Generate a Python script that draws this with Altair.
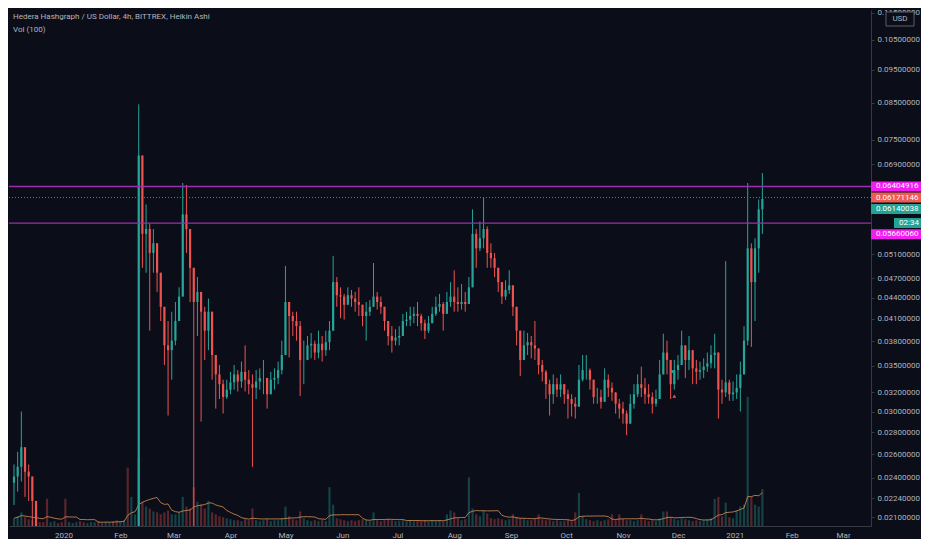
import altair as alt
import pandas as pd

# 2-day Heikin Ashi style candles, first bar 2019-12-05
first_day = "2019-12-05"
first_open = 0.0236

close = [
    0.0241, 0.0249, 0.0266, 0.0245, 0.0241, 0.0222, 0.0192, 0.0178, 0.0170, 0.0165,
    0.0168, 0.0172, 0.0166, 0.0160, 0.0158, 0.0163, 0.0170, 0.0175, 0.0168, 0.0164,
    0.0170, 0.0178, 0.0182, 0.0176, 0.0172, 0.0178, 0.0185, 0.0180, 0.0176, 0.0180,
    0.0186, 0.0183, 0.0188, 0.0190, 0.0711, 0.0546, 0.0555, 0.0512, 0.0529, 0.0479,
    0.0427, 0.0375, 0.0369, 0.0381, 0.0407, 0.0442, 0.0583, 0.0555, 0.0487, 0.0434,
    0.0449, 0.0420, 0.0394, 0.0420, 0.0363, 0.0340, 0.0329, 0.0315, 0.0323, 0.0331,
    0.0340, 0.0332, 0.0343, 0.0334, 0.0329, 0.0325, 0.0332, 0.0336, 0.0336, 0.0318,
    0.0334, 0.0336, 0.0345, 0.0363, 0.0434, 0.0414, 0.0407, 0.0400, 0.0357, 0.0357,
    0.0375, 0.0377, 0.0366, 0.0377, 0.0369, 0.0379, 0.0394, 0.0464, 0.0444, 0.0442,
    0.0430, 0.0444, 0.0439, 0.0434, 0.0430, 0.0414, 0.0420, 0.0427, 0.0442, 0.0434,
    0.0427, 0.0407, 0.0387, 0.0381, 0.0385, 0.0387, 0.0407, 0.0409, 0.0414, 0.0417,
    0.0414, 0.0404, 0.0394, 0.0404, 0.0417, 0.0427, 0.0431, 0.0417, 0.0434, 0.0442,
    0.0434, 0.0431, 0.0434, 0.0431, 0.0456, 0.0546, 0.0520, 0.0538, 0.0555, 0.0512,
    0.0503, 0.0487, 0.0464, 0.0442, 0.0452, 0.0459, 0.0427, 0.0394, 0.0357, 0.0375,
    0.0379, 0.0375, 0.0371, 0.0351, 0.0343, 0.0329, 0.0318, 0.0329, 0.0323, 0.0329,
    0.0318, 0.0313, 0.0308, 0.0305, 0.0334, 0.0345, 0.0345, 0.0334, 0.0315, 0.0315,
    0.0310, 0.0334, 0.0325, 0.0320, 0.0308, 0.0303, 0.0298, 0.0288, 0.0308, 0.0318,
    0.0329, 0.0325, 0.0318, 0.0315, 0.0308, 0.0313, 0.0340, 0.0366, 0.0357, 0.0329,
    0.0345, 0.0351, 0.0375, 0.0357, 0.0369, 0.0347, 0.0343, 0.0345, 0.0349, 0.0353,
    0.0363, 0.0366, 0.0323, 0.0320, 0.0331, 0.0318, 0.0320, 0.0325, 0.0340, 0.0381,
    0.0520, 0.0464, 0.0520, 0.0593, 0.0614,
]

high = [
    0.0251, 0.0262, 0.0300, 0.0262, 0.0251, 0.0241, 0.0203, 0.0195, 0.0184, 0.0176,
    0.0177, 0.0182, 0.0178, 0.0170, 0.0166, 0.0171, 0.0178, 0.0185, 0.0180, 0.0173,
    0.0178, 0.0186, 0.0192, 0.0187, 0.0181, 0.0186, 0.0194, 0.0192, 0.0185, 0.0188,
    0.0195, 0.0193, 0.0197, 0.0200, 0.0845, 0.0711, 0.0603, 0.0565, 0.0555, 0.0529,
    0.0479, 0.0420, 0.0407, 0.0420, 0.0434, 0.0456, 0.0648, 0.0644, 0.0538, 0.0487,
    0.0472, 0.0449, 0.0427, 0.0439, 0.0407, 0.0357, 0.0351, 0.0334, 0.0334, 0.0343,
    0.0351, 0.0345, 0.0355, 0.0375, 0.0345, 0.0340, 0.0345, 0.0347, 0.0357, 0.0334,
    0.0343, 0.0347, 0.0355, 0.0381, 0.0490, 0.0434, 0.0420, 0.0420, 0.0407, 0.0381,
    0.0387, 0.0391, 0.0381, 0.0394, 0.0387, 0.0394, 0.0407, 0.0507, 0.0472, 0.0456,
    0.0446, 0.0456, 0.0452, 0.0449, 0.0456, 0.0427, 0.0434, 0.0437, 0.0495, 0.0449,
    0.0442, 0.0427, 0.0407, 0.0400, 0.0396, 0.0400, 0.0417, 0.0420, 0.0427, 0.0427,
    0.0434, 0.0417, 0.0409, 0.0414, 0.0427, 0.0442, 0.0446, 0.0434, 0.0449, 0.0464,
    0.0483, 0.0456, 0.0461, 0.0449, 0.0472, 0.0593, 0.0555, 0.0569, 0.0617, 0.0560,
    0.0529, 0.0512, 0.0487, 0.0464, 0.0467, 0.0483, 0.0456, 0.0420, 0.0381, 0.0394,
    0.0391, 0.0387, 0.0407, 0.0369, 0.0357, 0.0345, 0.0334, 0.0340, 0.0336, 0.0340,
    0.0329, 0.0323, 0.0318, 0.0315, 0.0351, 0.0363, 0.0363, 0.0347, 0.0329, 0.0325,
    0.0323, 0.0347, 0.0340, 0.0331, 0.0318, 0.0313, 0.0310, 0.0301, 0.0318, 0.0329,
    0.0340, 0.0349, 0.0336, 0.0329, 0.0320, 0.0323, 0.0357, 0.0390, 0.0381, 0.0351,
    0.0357, 0.0363, 0.0394, 0.0375, 0.0387, 0.0369, 0.0357, 0.0355, 0.0359, 0.0366,
    0.0375, 0.0390, 0.0345, 0.0334, 0.0498, 0.0334, 0.0332, 0.0340, 0.0355, 0.0400,
    0.0648, 0.0529, 0.0538, 0.0613, 0.0670,
]

low = [
    0.0219, 0.0229, 0.0237, 0.0225, 0.0222, 0.0198, 0.0180, 0.0170, 0.0163, 0.0158,
    0.0160, 0.0164, 0.0158, 0.0152, 0.0150, 0.0155, 0.0162, 0.0166, 0.0160, 0.0156,
    0.0162, 0.0170, 0.0174, 0.0168, 0.0165, 0.0170, 0.0177, 0.0172, 0.0168, 0.0172,
    0.0178, 0.0175, 0.0180, 0.0182, 0.0188, 0.0487, 0.0479, 0.0394, 0.0479, 0.0449,
    0.0407, 0.0351, 0.0296, 0.0334, 0.0375, 0.0407, 0.0449, 0.0512, 0.0434, 0.0190,
    0.0387, 0.0290, 0.0357, 0.0369, 0.0334, 0.0303, 0.0313, 0.0298, 0.0313, 0.0318,
    0.0323, 0.0321, 0.0325, 0.0321, 0.0318, 0.0249, 0.0313, 0.0323, 0.0318, 0.0303,
    0.0318, 0.0323, 0.0329, 0.0340, 0.0381, 0.0360, 0.0387, 0.0381, 0.0316, 0.0329,
    0.0357, 0.0359, 0.0357, 0.0359, 0.0355, 0.0362, 0.0369, 0.0407, 0.0427, 0.0411,
    0.0409, 0.0430, 0.0427, 0.0420, 0.0414, 0.0400, 0.0381, 0.0414, 0.0427, 0.0423,
    0.0417, 0.0394, 0.0375, 0.0366, 0.0375, 0.0375, 0.0390, 0.0400, 0.0400, 0.0404,
    0.0400, 0.0394, 0.0383, 0.0391, 0.0404, 0.0414, 0.0420, 0.0394, 0.0420, 0.0427,
    0.0420, 0.0420, 0.0423, 0.0420, 0.0437, 0.0479, 0.0487, 0.0515, 0.0520, 0.0487,
    0.0487, 0.0472, 0.0449, 0.0431, 0.0437, 0.0446, 0.0414, 0.0375, 0.0338, 0.0357,
    0.0363, 0.0359, 0.0357, 0.0340, 0.0332, 0.0313, 0.0296, 0.0308, 0.0315, 0.0315,
    0.0308, 0.0293, 0.0295, 0.0293, 0.0318, 0.0332, 0.0334, 0.0323, 0.0308, 0.0308,
    0.0303, 0.0321, 0.0315, 0.0311, 0.0298, 0.0293, 0.0288, 0.0277, 0.0293, 0.0303,
    0.0315, 0.0315, 0.0308, 0.0308, 0.0298, 0.0305, 0.0323, 0.0351, 0.0340, 0.0313,
    0.0323, 0.0334, 0.0357, 0.0336, 0.0345, 0.0329, 0.0329, 0.0334, 0.0336, 0.0343,
    0.0347, 0.0347, 0.0293, 0.0308, 0.0315, 0.0311, 0.0311, 0.0313, 0.0300, 0.0351,
    0.0375, 0.0373, 0.0407, 0.0479, 0.0546,
]

volume = [
    8, 10, 14, 9, 7, 6, 5, 4, 4, 28,
    4, 5, 3, 4, 28, 4, 3, 4, 5, 4,
    3, 4, 4, 5, 3, 4, 4, 5, 6, 5,
    6, 60, 30, 12, 70, 25, 20, 18, 15, 14,
    12, 14, 16, 12, 12, 14, 30, 20, 18, 40,
    25, 22, 18, 26, 14, 12, 10, 9, 8, 7,
    6, 6, 5, 7, 6, 18, 6, 5, 6, 7,
    5, 6, 6, 8, 20, 10, 7, 6, 15, 8,
    6, 5, 6, 5, 6, 5, 40, 22, 8, 7,
    6, 5, 6, 5, 6, 7, 6, 5, 14, 6,
    5, 6, 7, 6, 5, 5, 6, 5, 6, 5,
    6, 5, 6, 5, 6, 5, 6, 5, 12, 16,
    14, 8, 6, 7, 50, 18, 12, 10, 16, 13,
    8, 7, 8, 7, 6, 7, 12, 9, 8, 7,
    6, 6, 7, 12, 7, 6, 6, 5, 6, 5,
    5, 6, 5, 14, 34, 10, 7, 6, 5, 6,
    5, 6, 7, 12, 6, 12, 7, 6, 6, 5,
    6, 12, 6, 5, 6, 5, 8, 15, 15, 9,
    7, 6, 8, 7, 6, 5, 6, 5, 6, 7,
    8, 28, 30, 10, 24, 9, 8, 16, 20, 22,
    133, 30, 22, 20, 38,
]

# horizontal levels and price tags on the right scale
level_lines = [0.06404916, 0.05660060]
last_price = 0.06171146
tag_prices = [0.06404916, 0.06171146, 0.06140038, 0.06140038, 0.05660060]
tag_texts = ["0.06404916", "0.06171146", "0.06140038", "02:34", "0.05660060"]

tick_values = [0.021, 0.0224, 0.024, 0.026, 0.028, 0.030, 0.032, 0.035, 0.038,
               0.041, 0.044, 0.047, 0.051, 0.069, 0.075, 0.085, 0.095, 0.105, 0.115]

marker_dates = ["2020-11-28", "2020-11-29"]
marker_prices = [0.0343, 0.0316]

header = ["Hedera Hashgraph / US Dollar, 4h, BITTREX, Heikin Ashi", "Vol (100)"]

W, H = 862, 516
BG = "#0b0d18"
UP = "#26a69a"
DOWN = "#ef5350"
TXT = "#b2b5be"

dates = pd.date_range(first_day, periods=len(close), freq="2D")
df = pd.DataFrame({
    "date": dates.strftime("%Y-%m-%d"),
    "open": [first_open] + close[:-1],
    "close": close,
    "high": high,
    "low": low,
    "volume": volume,
})
df["high"] = df[["high", "open", "close"]].max(axis=1)
df["low"] = df[["low", "open", "close"]].min(axis=1)
df["dir"] = ["up" if c >= o else "down" for o, c in zip(df["open"], df["close"])]

x_scale = alt.Scale(
    type="utc",
    domain=[alt.DateTime(year=2019, month=12, date=5, utc=True),
            alt.DateTime(year=2021, month=3, date=13, hours=12, utc=True)],
)
x_axis = alt.Axis(
    title=None,
    values=[alt.DateTime(year=2020 + (m // 12), month=m % 12 + 1, date=1, utc=True) for m in range(15)],
    labelExpr="utcFormat(datum.value, '%m') == '01' ? utcFormat(datum.value, '%Y') : utcFormat(datum.value, '%b')",
    ticks=False, grid=False, labelPadding=5, domainColor="#363a45",
)
x_enc = alt.X("date:T", scale=x_scale, axis=x_axis)

y_scale = alt.Scale(type="log", domain=[0.0204, 0.1161], nice=False)
y_axis = alt.Axis(title=None, orient="right", values=tick_values, format=".8f",
                  tickSize=3, labelPadding=3, grid=False)

color = alt.Color("dir:N", scale=alt.Scale(domain=["up", "down"], range=[UP, DOWN]), legend=None)

base = alt.Chart(df)

wicks = base.mark_rule(strokeWidth=1, clip=True).encode(
    x=x_enc,
    y=alt.Y("low:Q", scale=y_scale, axis=y_axis),
    y2="high:Q",
    color=color,
)
bodies = base.mark_bar(size=2.2, clip=True).encode(
    x=x_enc,
    y=alt.Y("open:Q", scale=y_scale, axis=y_axis),
    y2="close:Q",
    color=color,
)

levels = alt.Chart(pd.DataFrame({"price": level_lines})).mark_rule(
    color="#9c2fae", strokeWidth=1.3
).encode(y=alt.Y("price:Q", scale=y_scale, axis=y_axis))

last_line = alt.Chart(pd.DataFrame({"price": [last_price]})).mark_rule(
    color="#6b7a86", strokeWidth=1, strokeDash=[1, 2]
).encode(y=alt.Y("price:Q", scale=y_scale, axis=y_axis))

markers = alt.Chart(pd.DataFrame({
    "date": marker_dates, "price": marker_prices, "kind": ["sell", "buy"]
})).mark_point(filled=True, opacity=1, size=14).encode(
    x=x_enc,
    y=alt.Y("price:Q", scale=y_scale, axis=y_axis),
    shape=alt.Shape("kind:N", scale=alt.Scale(domain=["sell", "buy"], range=["triangle-down", "triangle-up"]), legend=None),
    color=alt.Color("kind:N", scale=alt.Scale(domain=["sell", "buy"], range=["#f2c94c", "#b8e35a"]), legend=None),
)

# right-hand price tags
tag_colors = ["#f01ef0", "#ef5b55", "#22a393", "#22a393", "#f01ef0"]
tag_offsets = [0, 0, 10, 24, 11]
tag_layers = []
for p, t, c, off in zip(tag_prices, tag_texts, tag_colors, tag_offsets):
    tdf = pd.DataFrame({"price": [p], "label": [t]})
    if t == "02:34":
        box = alt.Chart(tdf).mark_point(
            shape="M-1,-0.37L1,-0.37L1,0.37L-1,0.37Z", size=27 * 27,
            filled=True, opacity=1, color=c, strokeWidth=0, yOffset=off,
        ).encode(x=alt.value(W + 36.5), y=alt.Y("price:Q", scale=y_scale, axis=y_axis))
        txt = alt.Chart(tdf).mark_text(
            align="right", baseline="middle", color="white", fontSize=8, font="Roboto", yOffset=off,
        ).encode(x=alt.value(W + 48), y=alt.Y("price:Q", scale=y_scale, axis=y_axis), text="label:N")
    else:
        box = alt.Chart(tdf).mark_point(
            shape="M-1,-0.2L1,-0.2L1,0.2L-1,0.2Z", size=50 * 50,
            filled=True, opacity=1, color=c, strokeWidth=0, yOffset=off,
        ).encode(x=alt.value(W + 25), y=alt.Y("price:Q", scale=y_scale, axis=y_axis))
        txt = alt.Chart(tdf).mark_text(
            align="left", baseline="middle", color="white", fontSize=8, font="Roboto", yOffset=off,
        ).encode(x=alt.value(W + 5), y=alt.Y("price:Q", scale=y_scale, axis=y_axis), text="label:N")
    tag_layers += [box, txt]

price = alt.layer(wicks, bodies, levels, last_line, markers, *tag_layers)

vol_scale = alt.Scale(domain=[0, 531])
vol_bars = base.mark_bar(size=2.2, opacity=0.35).encode(
    x=x_enc,
    y=alt.Y("volume:Q", scale=vol_scale, axis=None),
    color=color,
)
vol_ma = base.transform_window(
    vma="mean(volume)", frame=[-8, 0], sort=[alt.SortField("date")]
).mark_line(color="#f0a35e", strokeWidth=1, opacity=0.7).encode(
    x=x_enc,
    y=alt.Y("vma:Q", scale=vol_scale, axis=None),
)
vol = alt.layer(vol_bars, vol_ma)

head = alt.Chart(pd.DataFrame({"t": ["\n".join(header)]})).mark_text(
    align="left", baseline="top", color=TXT, fontSize=8, font="Roboto",
    lineBreak="\n", lineHeight=13,
).encode(x=alt.value(4), y=alt.value(3), text="t:N")

usd_box = alt.Chart(pd.DataFrame({"t": ["USD"]})).mark_point(
    shape="M-1,-0.5L1,-0.5L1,0.5L-1,0.5Z", size=28 * 28, filled=True,
    fill=BG, stroke="#5d606b", strokeWidth=1, opacity=1, fillOpacity=1,
).encode(x=alt.value(W + 29), y=alt.value(9))
usd_txt = alt.Chart(pd.DataFrame({"t": ["USD"]})).mark_text(
    align="center", baseline="middle", color=TXT, fontSize=8, font="Roboto",
).encode(x=alt.value(W + 29), y=alt.value(9), text="t:N")

chart = alt.layer(vol, price, head, usd_box, usd_txt).resolve_scale(
    y="independent", shape="independent", color="independent"
).properties(
    width=W, height=H, padding={"left": 0, "top": 0, "right": 0, "bottom": 0}
).configure(background=BG).configure_view(stroke=None).configure_axis(
    labelColor=TXT, labelFont="Roboto", labelFontSize=8,
    domainColor="#363a45", tickColor="#363a45",
)

chart.save("out.html", embed_options={"renderer": "svg", "actions": False})
